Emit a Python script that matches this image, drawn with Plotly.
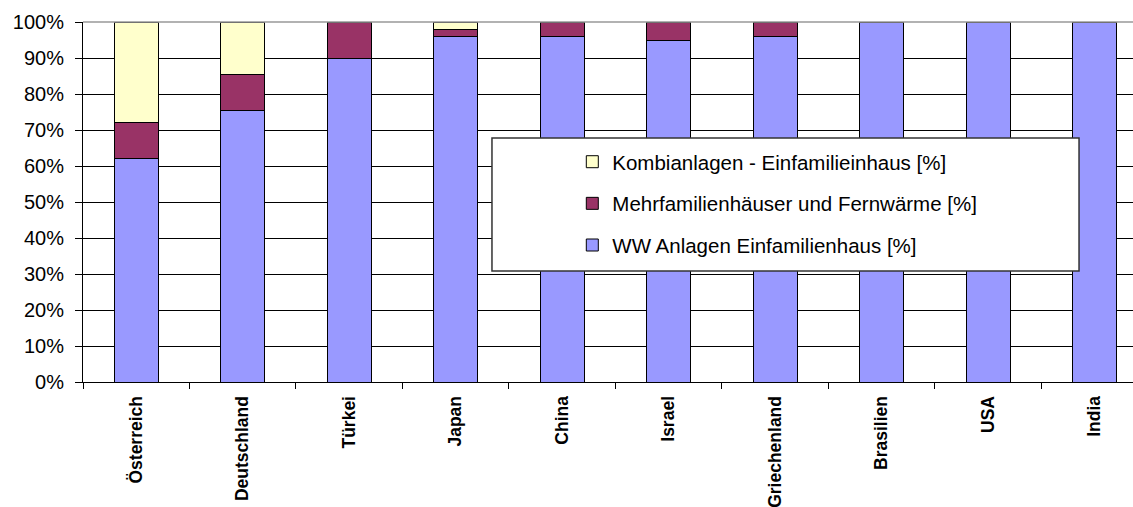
import plotly.graph_objects as go

countries = ["Österreich", "Deutschland", "Türkei", "Japan", "China",
             "Israel", "Griechenland", "Brasilien", "USA", "India"]
ww_efh = [62, 75.5, 90, 96, 96, 95, 96, 100, 100, 100]
mfh_fernwaerme = [10, 10, 10, 2, 4, 5, 4, 0, 0, 0]
kombi_efh = [28, 14.5, 0, 2, 0, 0, 0, 0, 0, 0]

series = [
    ("WW Anlagen Einfamilienhaus [%]", ww_efh, "#9999FF", 3),
    ("Mehrfamilienhäuser und Fernwärme [%]", mfh_fernwaerme, "#993366", 2),
    ("Kombianlagen - Einfamilieinhaus [%]", kombi_efh, "#FFFFCC", 1),
]

fig = go.Figure()
for i, (name, vals, color, rank) in enumerate(series):
    fig.add_trace(go.Bar(
        x=countries,
        y=vals,
        name=name,
        legendgroup=f"g{i}",
        legendrank=rank,
        marker=dict(color=color, line=dict(color="black", width=1)),
        width=0.41,
    ))

fig.update_layout(
    barmode="stack",
    width=1133,
    height=507,
    margin=dict(l=83, r=0, t=22, b=125),
    paper_bgcolor="white",
    plot_bgcolor="white",
    font=dict(family="Liberation Sans, Arial, sans-serif", color="black"),
    showlegend=True,
    legend=dict(
        x=0.466,
        y=0.667,
        xanchor="left",
        yanchor="top",
        bgcolor="rgba(0,0,0,0)",
        borderwidth=0,
        font=dict(size=20.5),
        traceorder="grouped",
        tracegroupgap=12,
    ),
    xaxis=dict(
        range=[-0.5, 9.36],
        showline=True,
        linecolor="black",
        linewidth=1,
        ticks="outside",
        tickson="boundaries",
        ticklen=6,
        tickcolor="black",
        tickangle=-90,
        tickfont=dict(size=17.5, weight="bold"),
        ticklabelstandoff=6,
        showgrid=False,
        fixedrange=True,
    ),
    yaxis=dict(
        range=[0, 100],
        tickvals=[0, 10, 20, 30, 40, 50, 60, 70, 80, 90, 100],
        ticktext=["0%", "10%", "20%", "30%", "40%", "50%", "60%",
                  "70%", "80%", "90%", "100%"],
        showline=True,
        linecolor="black",
        linewidth=1,
        ticks="outside",
        ticklen=7,
        tickcolor="black",
        tickfont=dict(size=20),
        ticklabelstandoff=7,
        showgrid=True,
        gridcolor="black",
        gridwidth=1,
        zeroline=False,
    ),
    shapes=[
        dict(type="line", xref="paper", yref="paper", x0=0, x1=1, y0=1, y1=1,
             line=dict(color="#999999", width=1.5), layer="above"),
        dict(type="rect", xref="paper", yref="paper",
             x0=0.3895, x1=0.9486, y0=0.308, y1=0.678,
             fillcolor="white", line=dict(color="#333333", width=1.5),
             layer="above"),
    ],
)

fig.write_html("out.html", config=dict(displayModeBar=False),
               post_script="document.body.style.margin='0';")
